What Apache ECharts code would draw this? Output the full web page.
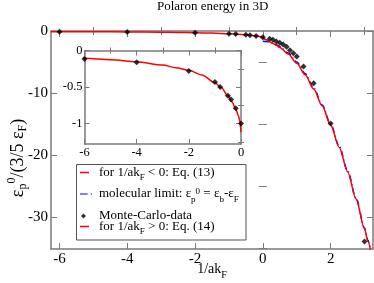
<!DOCTYPE html>
<html><head><meta charset="utf-8">
<script src="https://cdn.jsdelivr.net/npm/echarts@6/dist/echarts.min.js"></script>
<style>html,body{margin:0;padding:0;background:#fff}#c{width:374px;height:283px}</style>
</head><body><div id="c"></div>
<script>
// ---- data ----
const mcX = [-6, -4, -2, -1, -0.8, -0.5, -0.38, -0.2, 0, 0.2, 0.3, 0.4, 0.5, 0.6, 0.7, 0.8, 0.9, 1.0, 1.2, 1.5, 2.0, 3.0];
const mcY = [-0.117, -0.16, -0.28, -0.43, -0.50, -0.62, -0.67, -0.79, -1.0, -1.26, -1.42, -1.69, -1.9, -2.17, -2.55, -3.08, -3.6, -4.1, -5.7, -8.4, -14.9, -33.9];

const eq13X = [-6.25, -6, -5, -4, -3, -2.5, -2, -1.5, -1, -0.75, -0.5, -0.35, -0.2, -0.1, -0.05, 0];
const eq13Y = [-0.105, -0.107, -0.125, -0.154, -0.2, -0.235, -0.27, -0.335, -0.44, -0.51, -0.62, -0.70, -0.80, -0.89, -0.96, -1.12];

const molX = [0, 0.1, 0.2, 0.3, 0.4, 0.5, 0.75, 1, 1.25, 1.5, 1.75, 2, 2.25, 2.5, 2.75, 3, 3.1, 3.2];
const molY = [-1.67, -1.70, -1.80, -1.97, -2.2, -2.5, -3.54, -5.0, -6.88, -9.17, -11.9, -15.0, -18.5, -22.5, -26.9, -31.7, -33.7, -35.8];

const eq14X = [0, 0.1, 0.2, 0.3, 0.4, 0.5, 0.75, 1, 1.25, 1.5, 1.75, 2, 2.25, 2.5, 2.75, 3, 3.1, 3.2];
const eq14Y = [-1.12, -1.42, -1.72, -2.02, -2.3, -2.65, -3.7, -5.2, -7.05, -9.35, -12.05, -15.15, -18.7, -22.65, -27.05, -31.85, -33.9, -36.0];

const mainXTicks = [-6, -4, -2, 0, 2];
const mainXMinor = [-5, -3, -1, 1, 3];
const mainYTicks = [0, -10, -20, -30];
const mainYMinor = [-5, -15, -25, -35];
const insetXTicks = [-6, -4, -2, 0];
const insetXMinor = [-5, -3, -1];
const insetYTicks = [0, -0.5, -1];
const insetYMinor = [-0.25, -0.75, -1.25];

// ---- chart ----
const FONT = "Liberation Serif";
const GREY = '#7a7a7a';
const zip = (xs, ys) => xs.map((x, i) => [x, ys[i]]);
const insetMc = zip(mcX, mcY).filter(p => p[0] <= 0);
const isIn = (v, list) => list.some(t => Math.abs(t - v) < 1e-6);

// labels are generated on a fine step and only the listed tick values are printed
function axes(dim, grid, min, max, step, major, minor, labelSize, majorLen, minorLen, margin, extra) {
  const pos = dim === 'x' ? ['bottom', 'top'] : ['left', 'right'];
  const base = { type: 'value', gridIndex: grid, min: min, max: max, splitLine: { show: false } };
  const line = { show: true, onZero: false, lineStyle: { color: GREY, width: 1.5 } };
  return [
    Object.assign({}, base, {
      position: pos[0], axisLine: line, interval: step,
      axisTick: { show: true, inside: true, length: majorLen, customValues: major, lineStyle: { color: GREY, width: 1 } },
      axisLabel: { show: true, margin: margin, color: '#000', fontFamily: FONT, fontSize: labelSize,
        showMinLabel: true, showMaxLabel: true,
        formatter: v => isIn(v, major) ? String(Math.round(v * 100) / 100) : '' }
    }, extra || {}),
    Object.assign({}, base, {
      position: pos[0], axisLine: { show: false },
      axisTick: { show: true, inside: true, length: minorLen, customValues: minor, lineStyle: { color: GREY, width: 1 } },
      axisLabel: { show: false }
    }),
    Object.assign({}, base, {
      position: pos[1], axisLine: line,
      axisTick: { show: true, inside: true, length: majorLen, customValues: major, lineStyle: { color: GREY, width: 1 } },
      axisLabel: { show: false }
    }),
    Object.assign({}, base, {
      position: pos[1], axisLine: { show: false },
      axisTick: { show: true, inside: true, length: minorLen, customValues: minor, lineStyle: { color: GREY, width: 1 } },
      axisLabel: { show: false }
    })
  ];
}

const rich = {
  sub: { fontSize: 9, fontFamily: FONT, color: '#000', verticalAlign: 'top', padding: [8, 0, 0, 0] },
  sup: { fontSize: 9, fontFamily: FONT, color: '#000', verticalAlign: 'top', padding: [0, 0, 0, 0] }
};
const legendText = {
  'for 1/akF < 0: Eq. (13)': 'for 1/ak{sub|F} < 0: Eq. (13)',
  'molecular limit': 'molecular limit: ε{sub|p}{sup|0} = ε{sub|b}-ε{sub|F}',
  'Monte-Carlo-data': 'Monte-Carlo-data',
  'for 1/akF > 0: Eq. (14)': 'for 1/ak{sub|F} > 0: Eq. (14)'
};
function legendFor(name, top, left, w, h, padLeft, icon, color) {
  return {
    data: [{ name: name, icon: icon, itemStyle: { color: color, borderWidth: 0 } }],
    orient: 'vertical', left: left, top: top, padding: 0,
    itemWidth: w, itemHeight: h, selectedMode: false, z: 10,
    formatter: n => legendText[n],
    textStyle: { fontFamily: FONT, fontSize: 13, color: '#000', lineHeight: 14, padding: [0, 0, 0, padLeft], rich: rich }
  };
}

const nameRich = {
  b: { fontSize: 14, fontFamily: FONT, color: '#000' },
  sub: { fontSize: 10, fontFamily: FONT, color: '#000', verticalAlign: 'top', padding: [8, 0, 0, 0] }
};
const xAxes = axes('x', 0, -6.25, 3.25, 0.25, mainXTicks, mainXMinor, 15, 6, 4, 3, {
  name: '{b|1/ak}{sub|F}', nameLocation: 'middle', nameGap: 13, nameMoveOverlap: false,
  nameTextStyle: { fontFamily: FONT, fontSize: 14, color: '#000', lineHeight: 15, rich: nameRich }
}).concat(axes('x', 1, -6, 0, 2, insetXTicks, insetXMinor, 12.5, 5, 3, 2));
const yAxes = axes('y', 0, -35.1, 0, 0.1, mainYTicks, mainYMinor, 15, 6, 4, 3)
  .concat(axes('y', 1, -1.28, 0, 0.01, insetYTicks, insetYMinor, 12.5, 5, 3, 2));

const option = {
  animation: false,
  backgroundColor: '#fff',
  textStyle: { fontFamily: FONT },
  title: { text: 'Polaron energy in 3D', left: 157, top: 0, padding: 0,
    textStyle: { fontFamily: FONT, fontSize: 13, fontWeight: 'normal', color: '#000' } },
  grid: [
    { left: 51, top: 31, width: 322, height: 218, outerBoundsMode: 'none' },
    { left: 84.5, top: 50.5, width: 156.5, height: 93.5, outerBoundsMode: 'none' }
  ],
  xAxis: xAxes,
  yAxis: yAxes,
  legend: [
    legendFor('for 1/akF < 0: Eq. (13)', 165.5, 80, 9, 1.5, 5, 'rect', '#ff0000'),
    legendFor('molecular limit', 187, 80, 12, 1.5, 2, 'path://M0,0H7V1H0Z M10,0H11V1H10Z', '#0000ff'),
    legendFor('Monte-Carlo-data', 209, 81, 5, 5, 8, 'diamond', '#000'),
    legendFor('for 1/akF > 0: Eq. (14)', 219.5, 80, 9, 1.5, 5, 'rect', '#ff0000')
  ],
  graphic: [
    { type: 'rect', z: 1, shape: { x: 76.5, y: 164.5, width: 169.5, height: 75.5 },
      style: { fill: '#fff', stroke: '#555', lineWidth: 1 } },
    { type: 'text', z: 5, x: 18, y: 158, rotation: Math.PI / 2,
      style: { text: '{b|ε}{sub|p}{sup|0}{b|/(3/5 ε}{sub|F}{b|)}', fill: '#000',
        align: 'center', verticalAlign: 'middle',
        rich: { b: { fontSize: 18, fontFamily: FONT, lineHeight: 18 },
                sub: { fontSize: 12, fontFamily: FONT, verticalAlign: 'top', padding: [10, 0, 0, 0] },
                sup: { fontSize: 12, fontFamily: FONT, verticalAlign: 'top', padding: [-1, 0, 0, 0] } } } }
  ],
  series: [
    { name: 'molecular limit', type: 'line', xAxisIndex: 0, yAxisIndex: 0, data: zip(molX, molY),
      symbol: 'none', smooth: 0.3, smoothMonotone: 'x', z: 2,
      itemStyle: { color: '#0000ff' }, lineStyle: { color: '#0000ff', width: 1.5, type: [6, 3, 1, 3] } },
    { name: 'for 1/akF < 0: Eq. (13)', type: 'line', xAxisIndex: 0, yAxisIndex: 0, data: zip(eq13X, eq13Y),
      symbol: 'none', smooth: 0.3, smoothMonotone: 'x', z: 3,
      itemStyle: { color: '#ff0000' }, lineStyle: { color: '#ff0000', width: 1.5 } },
    { name: 'for 1/akF > 0: Eq. (14)', type: 'line', xAxisIndex: 0, yAxisIndex: 0, data: zip(eq14X, eq14Y),
      symbol: 'none', smooth: 0.3, smoothMonotone: 'x', z: 3,
      itemStyle: { color: '#ff0000' }, lineStyle: { color: '#ff0000', width: 1.5 } },
    { name: 'Monte-Carlo-data', type: 'scatter', xAxisIndex: 0, yAxisIndex: 0, data: zip(mcX, mcY),
      symbol: 'diamond', symbolSize: 6, z: 5, itemStyle: { color: '#000' } },
    { name: 'inset Eq. (13)', type: 'line', xAxisIndex: 4, yAxisIndex: 4, data: zip(eq13X, eq13Y),
      symbol: 'none', smooth: 0.3, smoothMonotone: 'x', z: 3, clip: true,
      itemStyle: { color: '#ff0000' }, lineStyle: { color: '#ff0000', width: 1.5 } },
    { name: 'inset Monte-Carlo', type: 'scatter', xAxisIndex: 4, yAxisIndex: 4, data: insetMc,
      symbol: 'diamond', symbolSize: 6, z: 5, itemStyle: { color: '#000' } }
  ]
};
const chart = echarts.init(document.getElementById('c'), null, { renderer: 'canvas' });
chart.setOption(option);
</script>
</body></html>
